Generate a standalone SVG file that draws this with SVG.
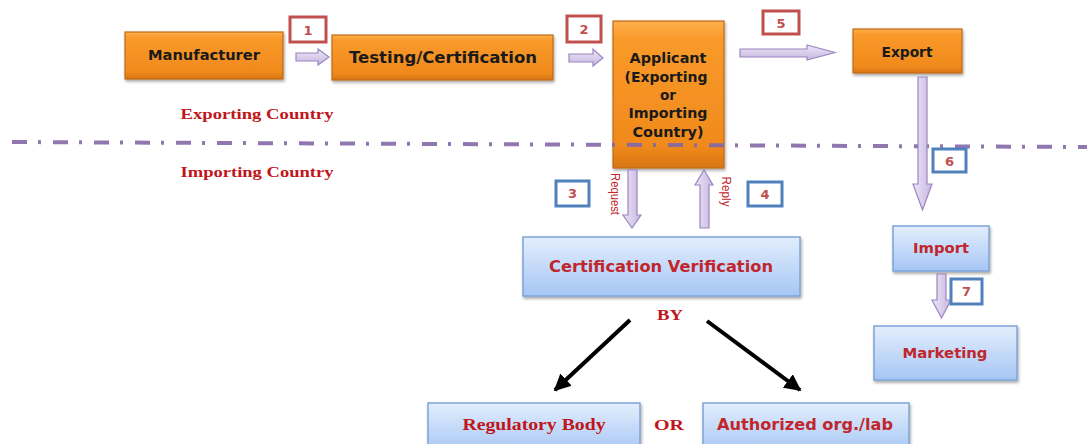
<svg xmlns="http://www.w3.org/2000/svg" width="1091" height="444" viewBox="0 0 1091 444">
<defs>
<linearGradient id="gOrange" x1="0" y1="0" x2="0" y2="1">
<stop offset="0" stop-color="#FDB04E"/>
<stop offset="0.12" stop-color="#F99A2A"/>
<stop offset="0.85" stop-color="#F08A1C"/>
<stop offset="1" stop-color="#D97512"/>
</linearGradient>
<linearGradient id="gBlue" x1="0" y1="0" x2="0" y2="1">
<stop offset="0" stop-color="#E3EEFD"/>
<stop offset="1" stop-color="#A6C6F4"/>
</linearGradient>
<linearGradient id="gPurpleH" x1="0" y1="0" x2="0" y2="1">
<stop offset="0" stop-color="#EEE6F6"/>
<stop offset="1" stop-color="#C6B6E0"/>
</linearGradient>
<linearGradient id="gPurpleV" x1="0" y1="0" x2="1" y2="0">
<stop offset="0" stop-color="#EEE6F6"/>
<stop offset="1" stop-color="#C6B6E0"/>
</linearGradient>
<filter id="sh" x="-10%" y="-10%" width="130%" height="140%">
<feDropShadow dx="1" dy="2" stdDeviation="1.5" flood-color="#000" flood-opacity="0.35"/>
</filter>
<marker id="blk" viewBox="0 0 10 10" refX="9" refY="5" markerWidth="4.2" markerHeight="4.2" orient="auto" markerUnits="strokeWidth">
<path d="M0,0 L10,5 L0,10 Z" fill="#000"/>
</marker>
</defs>
<style>
.orange{fill:url(#gOrange);stroke:#C06A18;stroke-width:1.2;filter:url(#sh)}
.blue{fill:url(#gBlue);stroke:#7EA4D8;stroke-width:1.5;filter:url(#sh)}
.otxt{font-family:"DejaVu Sans",Verdana,sans-serif;font-weight:bold;fill:#1a1a1a;text-anchor:middle}
.btxt{font-family:"DejaVu Sans",Verdana,sans-serif;font-weight:bold;fill:#C0262B;text-anchor:middle}
.stxt{font-family:"Liberation Serif","Times New Roman",serif;font-weight:bold;fill:#C0161B;text-anchor:middle}
.parrH{fill:url(#gPurpleH);stroke:#9A86C2;stroke-width:1.2}
.parrV{fill:url(#gPurpleV);stroke:#9A86C2;stroke-width:1.2}
.badgeR{fill:#fff;stroke:#C0504D;stroke-width:3}
.badgeB{fill:#fff;stroke:#4F81BD;stroke-width:3}
.num{font-family:"DejaVu Sans",Verdana,sans-serif;font-weight:bold;font-size:13px;fill:#C0504D;text-anchor:middle}
.small{font-family:"Liberation Sans",Arial,sans-serif;font-size:12px;fill:#C0262B;text-anchor:middle}
.blkarr{stroke:#000;stroke-width:4;fill:none;marker-end:url(#blk)}
</style>

<g id="node-manufacturer">
<rect class="orange" x="125" y="32" width="158" height="47"/>
<text class="otxt" x="204" y="60" font-size="14" textLength="112" lengthAdjust="spacingAndGlyphs">Manufacturer</text>
</g>
<g id="node-testing">
<rect class="orange" x="332" y="35" width="221" height="45"/>
<text class="otxt" x="443" y="63" font-size="16" textLength="188" lengthAdjust="spacingAndGlyphs">Testing/Certification</text>
</g>
<g id="node-applicant">
<rect class="orange" x="613" y="21" width="111" height="147"/>
<text class="otxt" x="668" y="63" font-size="14.5" textLength="77" lengthAdjust="spacingAndGlyphs">Applicant</text>
<text class="otxt" x="666" y="82" font-size="14.5" textLength="83" lengthAdjust="spacingAndGlyphs">(Exporting</text>
<text class="otxt" x="668" y="100" font-size="14.5" textLength="16" lengthAdjust="spacingAndGlyphs">or</text>
<text class="otxt" x="668" y="118" font-size="14.5" textLength="79" lengthAdjust="spacingAndGlyphs">Importing</text>
<text class="otxt" x="668" y="137" font-size="14.5" textLength="71" lengthAdjust="spacingAndGlyphs">Country)</text>
</g>
<g id="node-export">
<rect class="orange" x="853" y="29" width="109" height="44"/>
<text class="otxt" x="907" y="57" font-size="14" textLength="51" lengthAdjust="spacingAndGlyphs">Export</text>
</g>
<g id="node-certver">
<rect class="blue" x="523" y="237" width="277" height="59"/>
<text class="btxt" x="661" y="272" font-size="15" textLength="224" lengthAdjust="spacingAndGlyphs">Certification Verification</text>
</g>
<g id="node-import">
<rect class="blue" x="893" y="226" width="96" height="45"/>
<text class="btxt" x="941" y="253" font-size="14" textLength="56" lengthAdjust="spacingAndGlyphs">Import</text>
</g>
<g id="node-marketing">
<rect class="blue" x="874" y="326" width="143" height="54"/>
<text class="btxt" x="945" y="358" font-size="14" textLength="85" lengthAdjust="spacingAndGlyphs">Marketing</text>
</g>
<g id="node-regulatory">
<rect class="blue" x="428" y="403" width="212" height="50"/>
<text class="stxt" x="534" y="430" font-size="16" textLength="143" lengthAdjust="spacingAndGlyphs">Regulatory Body</text>
</g>
<g id="node-authorized">
<rect class="blue" x="703" y="403" width="206" height="50"/>
<text class="btxt" x="805" y="430" font-size="15" textLength="176" lengthAdjust="spacingAndGlyphs">Authorized org./lab</text>
</g>

<g id="labels">
<text class="stxt" x="257" y="119" font-size="15" textLength="153" lengthAdjust="spacingAndGlyphs">Exporting Country</text>
<text class="stxt" x="257" y="177" font-size="15" textLength="153" lengthAdjust="spacingAndGlyphs">Importing Country</text>
<text class="stxt" x="670" y="320" font-size="14" textLength="26" lengthAdjust="spacingAndGlyphs">BY</text>
<text class="stxt" x="669" y="430" font-size="15" textLength="30" lengthAdjust="spacingAndGlyphs">OR</text>
</g>

<g id="divider">
<line x1="12" y1="142" x2="1087" y2="147" stroke="#8469A8" stroke-width="4" stroke-dasharray="15 11 3 12" opacity="0.9"/>
</g>

<g id="connectors">
<polygon class="parrH" points="296,53 318,53 318,49 329,57 318,65 318,61 296,61"/>
<polygon class="parrH" points="569,54 593,54 593,49 603,58 593,66 593,62 569,62"/>
<polygon class="parrH" points="740,49 807,49 807,45 835,52.5 807,60 807,57 740,57"/>
<polygon class="parrV" points="918,77 927,77 927,184 932,184 922.5,210 913,184 918,184"/>
<polygon class="parrV" points="628,170 637,170 637,215 641,215 632,228 623,215 628,215"/>
<polygon class="parrV" points="700,228 709,228 709,185 713,185 704,170 695,185 700,185"/>
<polygon class="parrV" points="937,274 946,274 946,300 951,300 941.5,318 932,300 937,300"/>
<line class="blkarr" x1="630" y1="320" x2="555" y2="390"/>
<line class="blkarr" x1="707" y1="321" x2="800" y2="390"/>
<text class="small" transform="translate(611,194) rotate(90)" textLength="42" lengthAdjust="spacingAndGlyphs">Request</text>
<text class="small" transform="translate(722,191.5) rotate(90)" textLength="30" lengthAdjust="spacingAndGlyphs">Reply</text>
</g>

<g id="badges">
<rect class="badgeR" x="290" y="17" width="36" height="25"/>
<text class="num" x="308" y="35">1</text>
<rect class="badgeR" x="567" y="16" width="34" height="26"/>
<text class="num" x="584" y="34">2</text>
<rect class="badgeR" x="763" y="11" width="36" height="23"/>
<text class="num" x="781" y="28">5</text>
<rect class="badgeB" x="933" y="149" width="33" height="23"/>
<text class="num" x="949.5" y="166">6</text>
<rect class="badgeB" x="556" y="181" width="33" height="25"/>
<text class="num" x="572.5" y="198">3</text>
<rect class="badgeB" x="748" y="182" width="34" height="24"/>
<text class="num" x="765" y="199">4</text>
<rect class="badgeB" x="951" y="279" width="31" height="25"/>
<text class="num" x="966.5" y="296">7</text>
</g>
</svg>
